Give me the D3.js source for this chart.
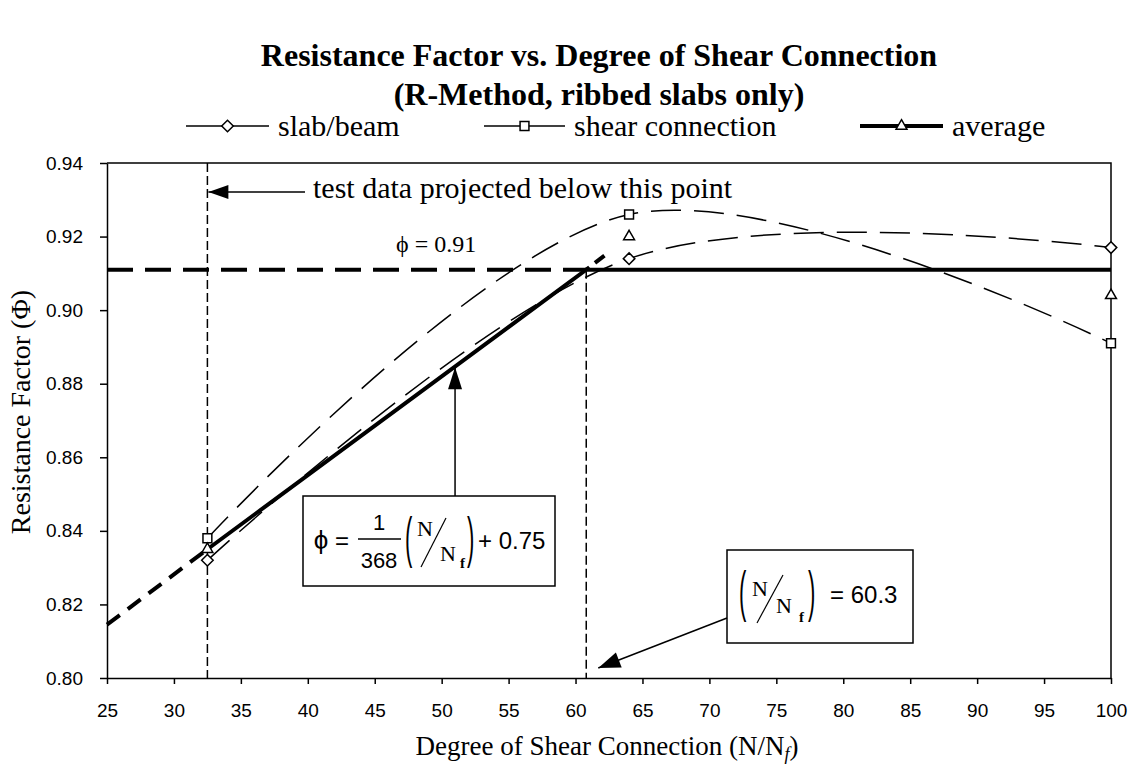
<!DOCTYPE html>
<html><head><meta charset="utf-8">
<script src="https://cdn.jsdelivr.net/npm/d3@7/dist/d3.min.js"></script>
<style>body{margin:0;background:#fff}svg{display:block}</style>
</head><body>
<svg id="c" width="1133" height="776"></svg>
<script>
// ---- data ----
const xTicks = [25,30,35,40,45,50,55,60,65,70,75,80,85,90,95,100];
const yTicks = [0.80,0.82,0.84,0.86,0.88,0.90,0.92,0.94];
const xPoints = [32.5, 64, 100];
const slabBeam = [0.832, 0.914, 0.917];
const shearConn = [0.838, 0.926, 0.891];
const average = [0.835, 0.920, 0.904];
const designX = [32.5, 60.8, 100];
const designY = [0.835, 0.911, 0.911];
const extensionX = [25, 32.5];
const extensionY = [0.8145, 0.835];
const phiX = [25, 60.8];
const phiValue = 0.911;
const kneeToAvgX = [60.8, 64];
const kneeToAvgY = [0.911, 0.920];
const cutoffX = 32.5;
const kneeX = 60.8;
const pointerX = 51;      // where the equation arrow meets the design line
const pointerY = 0.8845;
const kneeArrowX = 61.7;  // bottom arrow target

const svg = d3.select('#c');
const m = {l:107, r:1111, t:163, b:678};
const x = d3.scaleLinear().domain([25,100]).range([m.l, m.r]);
const y = d3.scaleLinear().domain([0.80,0.94]).range([m.b, m.t]);
const serif = "'Liberation Serif','Times New Roman',serif";
const sans = "'Liberation Sans',Arial,sans-serif";

// title
svg.append('text').attr('x',599).attr('y',66).attr('text-anchor','middle')
  .style('font-family',serif).style('font-weight','bold').style('font-size','32px')
  .text('Resistance Factor vs. Degree of Shear Connection');
svg.append('text').attr('x',599).attr('y',105).attr('text-anchor','middle')
  .style('font-family',serif).style('font-weight','bold').style('font-size','32px')
  .text('(R-Method, ribbed slabs only)');

// plot border (top/right)
svg.append('path').attr('d',`M${m.l},${m.t}H${m.r}V${m.b}`).attr('fill','none').attr('stroke','#000').attr('stroke-width',1.5);

// axes
const gy = svg.append('g').attr('transform',`translate(${m.l},0)`)
  .call(d3.axisLeft(y).tickValues(yTicks).tickFormat(d3.format('.2f')).tickSize(7).tickSizeOuter(0).tickPadding(17));
const gx = svg.append('g').attr('transform',`translate(0,${m.b})`)
  .call(d3.axisBottom(x).tickValues(xTicks).tickFormat(d3.format('d')).tickSize(6).tickSizeOuter(0).tickPadding(20));
[gx,gy].forEach(g=>{
  g.selectAll('path,line').attr('stroke','#000').attr('stroke-width',1.5);
  g.selectAll('text').style('font-family',sans).style('font-size','19px').attr('fill','#000');
});

// axis titles
const xt = svg.append('text').attr('x',607).attr('y',755).attr('text-anchor','middle')
  .style('font-family',serif).style('font-size','27px');
xt.append('tspan').text('Degree of Shear Connection (N/N');
xt.append('tspan').attr('dy',5).style('font-size','18px').style('font-style','italic').text('f');
xt.append('tspan').attr('dy',-5).text(')');
svg.append('text').attr('transform','translate(30,412) rotate(-90)').attr('text-anchor','middle')
  .style('font-family',serif).style('font-size','28px').text('Resistance Factor (\u03A6)');

// reference dashed verticals
svg.append('line').attr('x1',x(cutoffX)).attr('x2',x(cutoffX)).attr('y1',y(0.94)).attr('y2',y(0.80))
  .attr('stroke','#000').attr('stroke-width',1.5).attr('stroke-dasharray','9,4');
svg.append('line').attr('x1',x(kneeX)).attr('x2',x(kneeX)).attr('y1',y(phiValue)).attr('y2',y(0.80))
  .attr('stroke','#000').attr('stroke-width',1.5).attr('stroke-dasharray','9,4');

const line = d3.line().x(d=>x(d[0])).y(d=>y(d[1]));
const smooth = d3.line().x(d=>x(d[0])).y(d=>y(d[1])).curve(d3.curveCardinal.tension(0));

// series curves
svg.append('path').datum(d3.zip(xPoints, slabBeam)).attr('d',smooth)
  .attr('fill','none').attr('stroke','#000').attr('stroke-width',1.5).attr('stroke-dasharray','30,13');
svg.append('path').datum(d3.zip(xPoints, shearConn)).attr('d',smooth)
  .attr('fill','none').attr('stroke','#000').attr('stroke-width',1.5).attr('stroke-dasharray','30,13');

// design lines
svg.append('path').datum(d3.zip(phiX, [phiValue,phiValue])).attr('d',line)
  .attr('fill','none').attr('stroke','#000').attr('stroke-width',4).attr('stroke-dasharray','26,12');
svg.append('path').datum(d3.zip(extensionX, extensionY)).attr('d',line)
  .attr('fill','none').attr('stroke','#000').attr('stroke-width',4).attr('stroke-dasharray','16,10');
svg.append('path').datum(d3.zip(kneeToAvgX, kneeToAvgY)).attr('d',line)
  .attr('fill','none').attr('stroke','#000').attr('stroke-width',4).attr('stroke-dasharray','4,7,12,30');
svg.append('path').datum(d3.zip(designX, designY)).attr('d',line)
  .attr('fill','none').attr('stroke','#000').attr('stroke-width',4);

// markers
const diamond = d3.symbol().type(d3.symbolDiamond2).size(85);
const square = d3.symbol().type(d3.symbolSquare2).size(100);
const tri = d3.symbol().type(d3.symbolTriangle2).size(85);
function markers(vals, sym){
  svg.append('g').selectAll('path').data(d3.zip(xPoints, vals)).join('path')
    .attr('transform',d=>`translate(${x(d[0])},${y(d[1])})`).attr('d',sym)
    .attr('fill','#fff').attr('stroke','#000').attr('stroke-width',1.5);
}
markers(slabBeam, diamond);
markers(shearConn, square);
markers(average, tri);

// legend
const legend = [
  {name:'slab/beam', x0:186, x1:269, tx:278, sym:diamond, w:1.5},
  {name:'shear connection', x0:484, x1:565, tx:574, sym:square, w:1.5},
  {name:'average', x0:860, x1:943, tx:952, sym:tri, w:4}
];
const lg = svg.append('g');
legend.forEach(d=>{
  lg.append('line').attr('x1',d.x0).attr('x2',d.x1).attr('y1',126).attr('y2',126).attr('stroke','#000').attr('stroke-width',d.w);
  lg.append('path').attr('d',d.sym).attr('transform',`translate(${(d.x0+d.x1)/2},126)`)
    .attr('fill','#fff').attr('stroke','#000').attr('stroke-width',1.5);
  lg.append('text').attr('x',d.tx).attr('y',136).style('font-family',serif).style('font-size','30px').text(d.name);
});

// arrow helper
function arrow(x1,y1,x2,y2,len,wid){
  svg.append('line').attr('x1',x1).attr('y1',y1).attr('x2',x2).attr('y2',y2).attr('stroke','#000').attr('stroke-width',1.5);
  const a = Math.atan2(y2-y1,x2-x1);
  const bx = x2-len*Math.cos(a), by = y2-len*Math.sin(a);
  const px = -Math.sin(a)*wid/2, py = Math.cos(a)*wid/2;
  svg.append('path').attr('d',`M${x2},${y2}L${bx+px},${by+py}L${bx-px},${by-py}Z`).attr('fill','#000');
}

// annotation: test data projected
arrow(305,192,x(cutoffX)+1,192,20,14);
svg.append('text').attr('x',313).attr('y',198).style('font-family',serif).style('font-size','30px')
  .text('test data projected below this point');

// phi = 0.91
svg.append('text').attr('x',396).attr('y',252).style('font-family',serif).style('font-size','24px').text('\u03D5 = 0.91');

// stretched delimiter
function paren(g, ch, px, py, size, sy){
  g.append('text').attr('transform',`translate(${px},${py}) scale(1,${sy})`)
    .style('font-family',sans).style('font-size',size+'px').text(ch);
}

// equation box 1
const b1 = {x:303,y:496,w:252,h:90};
svg.append('rect').attr('x',b1.x).attr('y',b1.y).attr('width',b1.w).attr('height',b1.h).attr('fill','#fff').attr('stroke','#000').attr('stroke-width',1.5);
arrow(x(pointerX),b1.y,x(pointerX),y(pointerY),22,14);
const eq = svg.append('g').style('font-family',sans).attr('fill','#000');
eq.append('text').attr('x',321).attr('y',549).attr('text-anchor','middle').style('font-size','26px').text('\u03D5');
eq.append('text').attr('x',342).attr('y',549).attr('text-anchor','middle').style('font-size','24px').text('=');
eq.append('text').attr('x',379).attr('y',530).attr('text-anchor','middle').style('font-size','22px').text('1');
eq.append('line').attr('x1',358).attr('x2',401).attr('y1',539).attr('y2',539).attr('stroke','#000').attr('stroke-width',1.5);
eq.append('text').attr('x',379).attr('y',568).attr('text-anchor','middle').style('font-size','22px').text('368');
paren(eq,'(',405,556,22,2.5);
eq.append('text').attr('x',417).attr('y',536).style('font-family',serif).style('font-size','22px').text('N');
eq.append('line').attr('x1',421).attr('y1',567).attr('x2',446).attr('y2',518).attr('stroke','#000').attr('stroke-width',1.2);
eq.append('text').attr('x',440).attr('y',561).style('font-family',serif).style('font-size','22px').text('N');
eq.append('text').attr('x',460).attr('y',568).style('font-family',serif).style('font-size','15px').style('font-weight','bold').text('f');
paren(eq,')',467,556,22,2.5);
eq.append('text').attr('x',478).attr('y',549).style('font-size','24px').text('+ 0.75');

// equation box 2
const b2 = {x:727,y:550,w:186,h:93};
svg.append('rect').attr('x',b2.x).attr('y',b2.y).attr('width',b2.w).attr('height',b2.h).attr('fill','#fff').attr('stroke','#000').attr('stroke-width',1.5);
arrow(b2.x,618,x(kneeArrowX),668,22,16);
const e2 = svg.append('g').style('font-family',sans).attr('fill','#000');
paren(e2,'(',739,610,22,2.5);
e2.append('text').attr('x',752).attr('y',596).style('font-family',serif).style('font-size','22px').text('N');
e2.append('line').attr('x1',757).attr('y1',623).attr('x2',783).attr('y2',575).attr('stroke','#000').attr('stroke-width',1.2);
e2.append('text').attr('x',776).attr('y',613).style('font-family',serif).style('font-size','22px').text('N');
e2.append('text').attr('x',799).attr('y',622).style('font-family',serif).style('font-size','15px').style('font-weight','bold').text('f');
paren(e2,')',808,610,22,2.5);
e2.append('text').attr('x',830).attr('y',603).style('font-size','24px').text('= 60.3');
</script>
</body></html>
